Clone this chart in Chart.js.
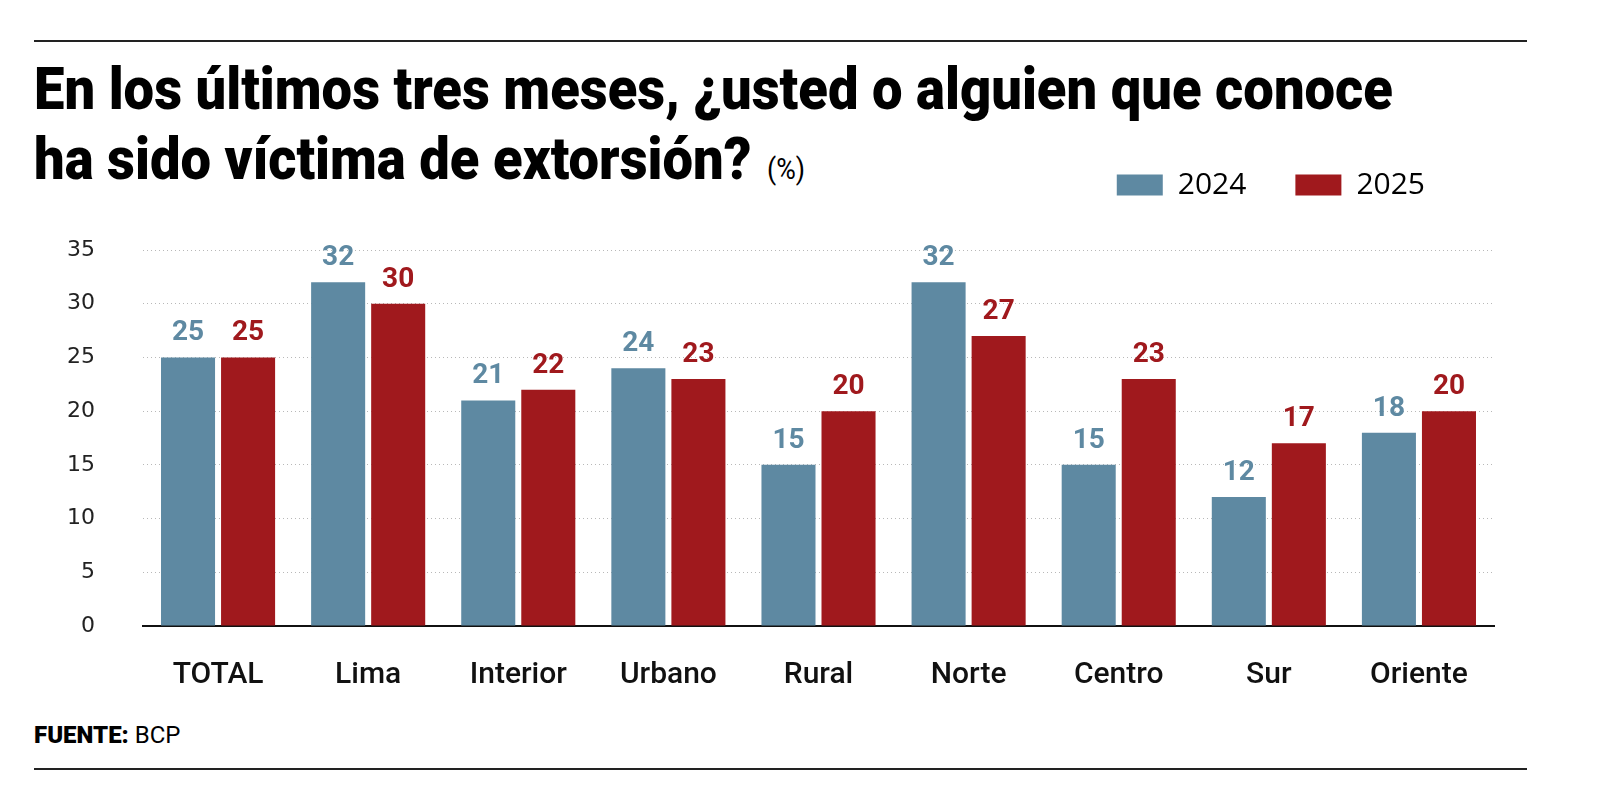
<!DOCTYPE html>
<html>
<head>
<meta charset="utf-8">
<script src="https://cdn.jsdelivr.net/npm/chart.js@4/dist/chart.umd.min.js"></script>
<style>
  html, body { margin: 0; padding: 0; background: #fff; }
  body { width: 1600px; height: 807px; position: relative; overflow: hidden; }
  .rule { position: absolute; left: 34px; width: 1493px; height: 2px; background: #222; }
  #title { position: absolute; left: 34px; top: 54px; font-family: Roboto, "Liberation Sans", sans-serif;
           font-weight: 900; font-size: 59px; line-height: 70px; color: #000; white-space: nowrap;
           transform-origin: 0 0; }
  #title .unit { font-weight: 400; font-size: 29px; margin-left: 17px; }
  #source { position: absolute; left: 34px; top: 721px; font-family: Roboto, sans-serif; font-size: 24px; color: #000; }
  #source b { font-weight: 900; }
  #wrap { position: absolute; left: 0; top: 109px; width: 1600px; height: 607px; }
</style>
</head>
<body>
<div class="rule" style="top:40px"></div>
<div id="title"><span id="l1">En los últimos tres meses, ¿usted o alguien que conoce</span><br><span id="l2">ha sido víctima de extorsión?</span><span class="unit">(%)</span></div>
<div id="wrap"><canvas id="myChart"></canvas></div>
<div id="source"><b>FUENTE:</b> BCP</div>
<div class="rule" style="top:768px"></div>
<script>
// fit title line 1 to the reference width
var l1 = document.getElementById('l1');
var s = 1359 / l1.getBoundingClientRect().width;
document.getElementById('title').style.transform = 'scaleX(' + s + ')';

var categories = ['TOTAL', 'Lima', 'Interior', 'Urbano', 'Rural', 'Norte', 'Centro', 'Sur', 'Oriente'];
var values2024 = [25, 32, 21, 24, 15, 32, 15, 12, 18];
var values2025 = [25, 30, 22, 23, 20, 27, 23, 17, 20];
var yTicks = [0, 5, 10, 15, 20, 25, 30, 35];

var blue = '#5e89a2';
var red = '#a0191d';

// value labels above each bar
var barLabels = {
    id: 'barLabels',
    afterDatasetsDraw: function(chart) {
        var c = chart.ctx;
        c.save();
        c.font = '700 28px Roboto, sans-serif';
        c.textAlign = 'center';
        c.textBaseline = 'alphabetic';
        chart.data.datasets.forEach(function(ds, i) {
            chart.getDatasetMeta(i).data.forEach(function(bar, j) {
                c.fillStyle = ds.backgroundColor;
                c.fillText(ds.data[j], bar.x, bar.y - 17);
            });
        });
        c.restore();
    }
};

// extra space under the legend, and pull it a bit left
var legendGap = {
    id: 'legendGap',
    beforeInit: function(chart) {
        var fit = chart.legend.fit;
        chart.legend.fit = function() {
            fit.bind(chart.legend)();
            this.height += 40;
            if (this.lineWidths) this.lineWidths[0] += 20;
        };
    }
};

var ctx = document.getElementById('myChart').getContext('2d');
var chart = new Chart(ctx, {
    type: 'bar',
    data: {
        labels: categories,
        datasets: [{
            label: '2024',
            backgroundColor: blue,
            data: values2024
        }, {
            label: '2025',
            backgroundColor: red,
            data: values2025
        }]
    },
    plugins: [barLabels, legendGap],
    options: {
        responsive: true,
        maintainAspectRatio: false,
        animation: false,
        categoryPercentage: 0.8,
        barPercentage: 0.9,
        layout: { padding: { left: 38, right: 106, top: 12, bottom: 0 } },
        plugins: {
            legend: {
                position: 'top',
                align: 'end',
                labels: {
                    boxWidth: 46,
                    boxHeight: 21,
                    padding: 49,
                    color: '#000',
                    font: { family: '"Open Sans", sans-serif', size: 30 }
                }
            },
            tooltip: { enabled: false }
        },
        scales: {
            x: {
                grid: { display: false },
                border: { color: '#111', width: 2 },
                ticks: {
                    color: '#111',
                    padding: 23,
                    font: { family: 'Roboto, sans-serif', size: 30, weight: '500' }
                }
            },
            y: {
                min: 0,
                max: 35,
                afterBuildTicks: function(axis) {
                    axis.ticks = yTicks.map(function(v) { return { value: v }; });
                },
                afterFit: function(axis) { axis.width = 105; },
                border: { display: false, dash: [1, 3] },
                grid: {
                    color: '#b8b8b8',
                    lineWidth: 1,
                    drawTicks: false
                },
                ticks: {
                    color: '#222',
                    padding: 48,
                    font: { family: '"DejaVu Sans", sans-serif', size: 22 }
                }
            }
        }
    }
});
</script>
</body>
</html>
